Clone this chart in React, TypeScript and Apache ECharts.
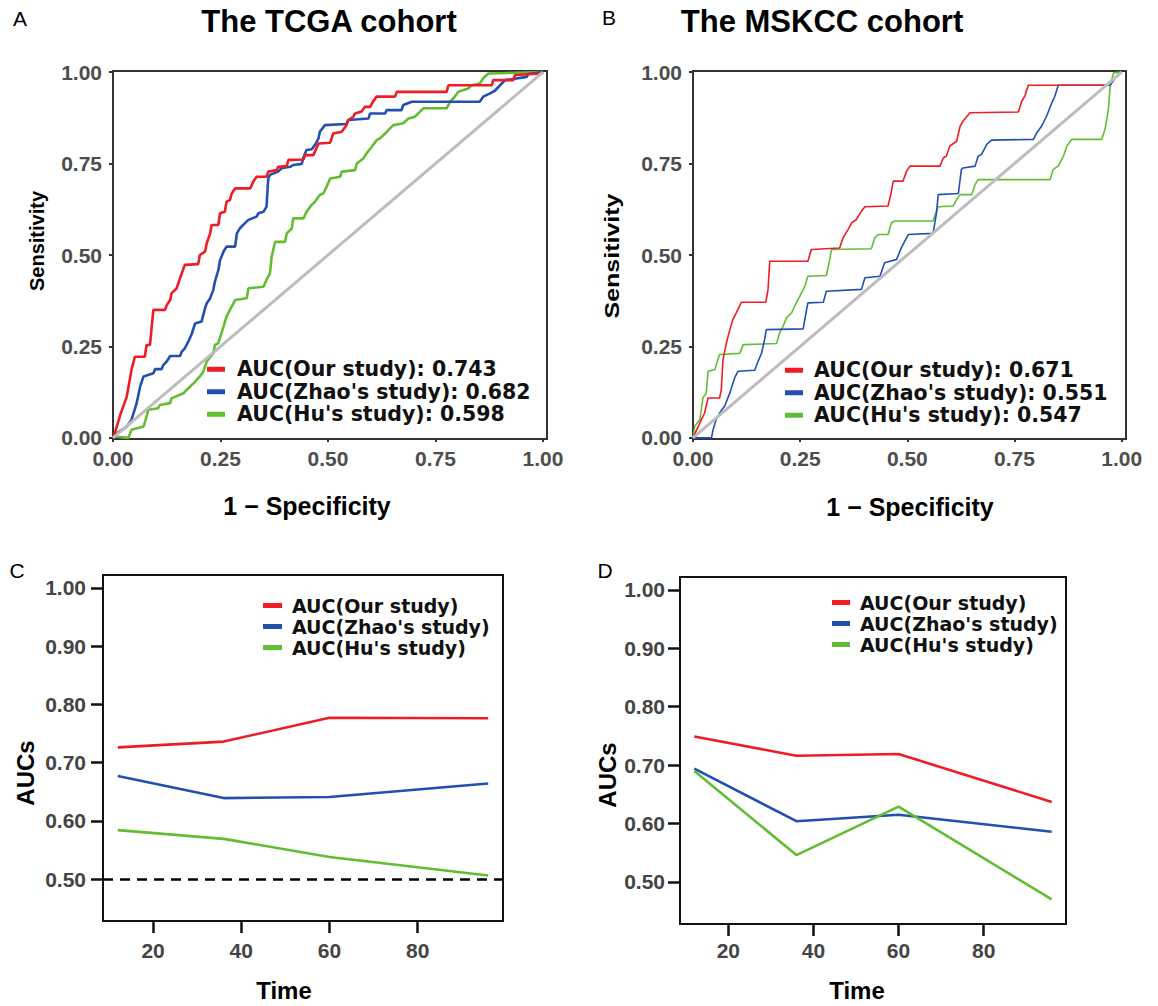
import React, { useEffect, useRef } from "react";
import * as echarts from "echarts";

// ---------- DATA ----------
const studies = ["Our study", "Zhao's study", "Hu's study"];
const tcgaAUC = [0.743, 0.682, 0.598];
const mskccAUC = [0.671, 0.551, 0.547];
const rocTicks = [0, 0.25, 0.5, 0.75, 1];
const timeTicks = [20, 40, 60, 80];
const aucTicks = [0.5, 0.6, 0.7, 0.8, 0.9, 1.0];
const diagonal = [[0, 0], [1, 1]];
const chanceAUC = 0.5;

// ROC curves [1 - specificity, sensitivity]
const tcgaOur = [
  [0, 0], [0.002, 0.004], [0.018, 0.067], [0.032, 0.113], [0.043, 0.186], [0.051, 0.222], [0.074, 0.222],
  [0.078, 0.254], [0.086, 0.254], [0.09, 0.304], [0.094, 0.35], [0.121, 0.35], [0.125, 0.363], [0.133, 0.377],
  [0.136, 0.395], [0.148, 0.409], [0.152, 0.423], [0.16, 0.45], [0.167, 0.473], [0.198, 0.475], [0.202, 0.5],
  [0.214, 0.509], [0.218, 0.532], [0.226, 0.559], [0.229, 0.582], [0.245, 0.582], [0.249, 0.614], [0.26, 0.618],
  [0.264, 0.646], [0.272, 0.65], [0.276, 0.668], [0.284, 0.682], [0.319, 0.682], [0.326, 0.7], [0.334, 0.714],
  [0.357, 0.714], [0.361, 0.728], [0.381, 0.732], [0.384, 0.741], [0.404, 0.743], [0.408, 0.76], [0.443, 0.761],
  [0.447, 0.773], [0.466, 0.773], [0.478, 0.805], [0.505, 0.807], [0.512, 0.832], [0.532, 0.837], [0.543, 0.855],
  [0.547, 0.869], [0.559, 0.878], [0.563, 0.887], [0.578, 0.892], [0.586, 0.905], [0.598, 0.905], [0.602, 0.914],
  [0.613, 0.933], [0.656, 0.933], [0.66, 0.946], [0.776, 0.946], [0.78, 0.964], [0.881, 0.964], [0.884, 0.978],
  [0.931, 0.978], [0.935, 0.992], [0.997, 0.996], [1, 1],
];
const tcgaZhao = [
  [0, 0], [0.002, 0.004], [0.012, 0.015], [0.032, 0.031], [0.043, 0.049], [0.055, 0.095], [0.063, 0.14],
  [0.071, 0.168], [0.094, 0.177], [0.098, 0.188], [0.113, 0.188], [0.117, 0.199], [0.125, 0.209], [0.133, 0.224],
  [0.156, 0.224], [0.16, 0.236], [0.167, 0.245], [0.175, 0.263], [0.183, 0.284], [0.191, 0.313], [0.206, 0.318],
  [0.214, 0.354], [0.218, 0.368], [0.226, 0.382], [0.233, 0.404], [0.237, 0.427], [0.245, 0.459], [0.249, 0.486],
  [0.257, 0.509], [0.264, 0.523], [0.284, 0.523], [0.288, 0.559], [0.295, 0.573], [0.307, 0.587], [0.315, 0.596],
  [0.334, 0.605], [0.338, 0.614], [0.35, 0.618], [0.357, 0.632], [0.361, 0.709], [0.365, 0.719], [0.384, 0.728],
  [0.392, 0.737], [0.412, 0.741], [0.419, 0.746], [0.439, 0.749], [0.443, 0.767], [0.45, 0.787], [0.462, 0.789],
  [0.47, 0.801], [0.478, 0.819], [0.481, 0.837], [0.493, 0.855], [0.543, 0.858], [0.547, 0.869], [0.594, 0.873],
  [0.598, 0.887], [0.633, 0.887], [0.636, 0.896], [0.671, 0.896], [0.675, 0.91], [0.695, 0.919], [0.853, 0.919],
  [0.861, 0.933], [0.877, 0.942], [0.888, 0.949], [0.9, 0.964], [0.912, 0.978], [0.962, 0.987], [0.966, 0.995],
  [1, 1],
];
const tcgaHu = [
  [0, 0], [0.002, 0.004], [0.036, 0.0], [0.043, 0.022], [0.071, 0.031], [0.078, 0.058], [0.082, 0.077],
  [0.105, 0.081], [0.109, 0.09], [0.133, 0.095], [0.136, 0.108], [0.164, 0.122], [0.171, 0.131], [0.187, 0.149],
  [0.202, 0.168], [0.21, 0.181], [0.218, 0.209], [0.233, 0.231], [0.237, 0.254], [0.245, 0.259], [0.257, 0.304],
  [0.264, 0.332], [0.272, 0.35], [0.28, 0.368], [0.284, 0.377], [0.311, 0.382], [0.315, 0.409], [0.35, 0.413],
  [0.357, 0.432], [0.365, 0.45], [0.369, 0.495], [0.377, 0.536], [0.4, 0.536], [0.404, 0.559], [0.416, 0.573],
  [0.419, 0.6], [0.443, 0.6], [0.45, 0.618], [0.462, 0.637], [0.47, 0.646], [0.481, 0.664], [0.489, 0.668],
  [0.497, 0.687], [0.505, 0.709], [0.528, 0.714], [0.532, 0.728], [0.563, 0.732], [0.567, 0.75], [0.582, 0.764],
  [0.59, 0.778], [0.602, 0.796], [0.613, 0.814], [0.621, 0.819], [0.633, 0.832], [0.644, 0.846], [0.652, 0.855],
  [0.675, 0.86], [0.687, 0.873], [0.702, 0.878], [0.714, 0.892], [0.722, 0.901], [0.776, 0.901], [0.784, 0.919],
  [0.795, 0.933], [0.803, 0.946], [0.826, 0.955], [0.834, 0.964], [0.853, 0.969], [0.861, 0.983], [0.873, 0.996],
  [1, 1],
];
const mskccOur = [
  [0, 0], [0.016, 0.041], [0.027, 0.068], [0.035, 0.109], [0.062, 0.109], [0.066, 0.132], [0.07, 0.214],
  [0.078, 0.26], [0.086, 0.296], [0.093, 0.324], [0.101, 0.342], [0.113, 0.371], [0.17, 0.371], [0.175, 0.406],
  [0.179, 0.483], [0.268, 0.483], [0.276, 0.515], [0.342, 0.519], [0.35, 0.547], [0.362, 0.57], [0.37, 0.588],
  [0.381, 0.597], [0.393, 0.62], [0.401, 0.632], [0.455, 0.634], [0.463, 0.675], [0.467, 0.702], [0.49, 0.702],
  [0.498, 0.729], [0.506, 0.743], [0.576, 0.743], [0.584, 0.766], [0.591, 0.77], [0.599, 0.798], [0.615, 0.811],
  [0.623, 0.852], [0.63, 0.866], [0.646, 0.889], [0.759, 0.891], [0.767, 0.921], [0.774, 0.934], [0.782, 0.964],
  [0.965, 0.964], [0.981, 0.98], [1, 1],
];
const mskccZhao = [
  [0, 0], [0.043, 0], [0.047, 0.023], [0.054, 0.05], [0.062, 0.068], [0.074, 0.087], [0.086, 0.123],
  [0.097, 0.164], [0.105, 0.182], [0.144, 0.185], [0.152, 0.21], [0.16, 0.232], [0.167, 0.269], [0.171, 0.296],
  [0.257, 0.298], [0.265, 0.351], [0.268, 0.369], [0.304, 0.371], [0.311, 0.401], [0.393, 0.406], [0.401, 0.438],
  [0.436, 0.442], [0.447, 0.479], [0.475, 0.488], [0.486, 0.52], [0.498, 0.547], [0.502, 0.556], [0.56, 0.559],
  [0.568, 0.615], [0.572, 0.665], [0.619, 0.668], [0.626, 0.734], [0.63, 0.738], [0.658, 0.743], [0.665, 0.77],
  [0.673, 0.775], [0.685, 0.802], [0.696, 0.814], [0.794, 0.816], [0.802, 0.834], [0.813, 0.852], [0.825, 0.88],
  [0.837, 0.916], [0.844, 0.934], [0.852, 0.964], [0.973, 0.964], [0.988, 0.989], [1, 1],
];
const mskccHu = [
  [0, 0], [0.004, 0.032], [0.016, 0.05], [0.023, 0.109], [0.031, 0.123], [0.035, 0.182], [0.051, 0.187],
  [0.058, 0.214], [0.062, 0.228], [0.109, 0.231], [0.117, 0.255], [0.195, 0.258], [0.202, 0.287], [0.21, 0.305],
  [0.218, 0.328], [0.23, 0.342], [0.237, 0.36], [0.249, 0.387], [0.261, 0.415], [0.268, 0.442], [0.311, 0.444],
  [0.319, 0.488], [0.323, 0.515], [0.416, 0.517], [0.424, 0.547], [0.432, 0.556], [0.455, 0.556], [0.463, 0.588],
  [0.471, 0.593], [0.56, 0.593], [0.568, 0.62], [0.572, 0.632], [0.607, 0.634], [0.615, 0.652], [0.623, 0.665],
  [0.65, 0.665], [0.658, 0.693], [0.665, 0.706], [0.833, 0.706], [0.84, 0.734], [0.852, 0.743], [0.864, 0.77],
  [0.872, 0.798], [0.883, 0.816], [0.953, 0.816], [0.961, 0.843], [0.969, 0.898], [0.973, 0.962], [0.981, 0.998],
  [1, 1],
];

// Time-dependent AUCs
const timePoints = [12, 36, 60, 96];
const tcgaTimeOur = [0.726, 0.736, 0.777, 0.776];
const tcgaTimeZhao = [0.677, 0.639, 0.641, 0.664];
const tcgaTimeHu = [0.584, 0.569, 0.538, 0.506];
const mskccTimeOur = [0.749, 0.716, 0.719, 0.637];
const mskccTimeZhao = [0.694, 0.604, 0.615, 0.586];
const mskccTimeHu = [0.69, 0.546, 0.629, 0.47];

// ---------- STYLE ----------
const COLORS = ["#ee1c25", "#2150b0", "#62bd32"];
const ARIAL = "'Liberation Sans', Arial, Helvetica, sans-serif";
const DEJAVU = "'DejaVu Sans', Verdana, sans-serif";

function rocAxis(grid: number, max: number, isY: boolean) {
  return {
    gridIndex: grid,
    type: "value",
    min: 0,
    max,
    axisLine: { show: false },
    splitLine: { show: false },
    axisTick: { show: true, length: 4, customValues: rocTicks, lineStyle: { color: "#333", width: 2 } },
    axisLabel: {
      customValues: rocTicks,
      formatter: (v: number) => v.toFixed(2),
      fontFamily: ARIAL,
      fontWeight: "bold",
      fontSize: 21,
      color: "#4d4d4d",
      margin: isY ? 11 : 9,
    },
  };
}

function timeAxis(grid: number, isY: boolean, margin: number) {
  return {
    gridIndex: grid,
    type: "value",
    min: isY ? 0.428 : 8.64,
    max: isY ? 1.022 : 99.36,
    axisLine: { show: false },
    splitLine: { show: false },
    axisTick: {
      show: true,
      length: 12,
      customValues: isY ? aucTicks : timeTicks,
      lineStyle: { color: "#111", width: 2.5 },
    },
    axisLabel: {
      customValues: isY ? aucTicks : timeTicks,
      formatter: (v: number) => (isY ? v.toFixed(2) : String(v)),
      fontFamily: ARIAL,
      fontWeight: "bold",
      fontSize: 21,
      color: "#444",
      margin,
    },
  };
}

function rocSeries(names: string[], curves: number[][][], grid: number, width: number) {
  const s: any[] = curves.map((c, i) => ({
    name: names[i],
    type: "line",
    xAxisIndex: grid,
    yAxisIndex: grid,
    data: c,
    showSymbol: false,
    symbol: "none",
    color: COLORS[i],
    lineStyle: { color: COLORS[i], width },
    z: 3 + (2 - i),
  }));
  s.push({
    name: "diag" + grid,
    type: "line",
    xAxisIndex: grid,
    yAxisIndex: grid,
    data: diagonal,
    showSymbol: false,
    symbol: "none",
    color: "#bdbdbd",
    lineStyle: { color: "#bdbdbd", width: 3 },
    z: 6,
  });
  return s;
}

function timeSeries(names: string[], vals: number[][], grid: number, dashed: boolean) {
  return vals.map((v, i) => ({
    name: names[i],
    type: "line",
    xAxisIndex: grid,
    yAxisIndex: grid,
    data: timePoints.map((t, k) => [t, v[k]]),
    showSymbol: false,
    symbol: "none",
    color: COLORS[i],
    lineStyle: { color: COLORS[i], width: 2.6 },
    z: 3,
    markLine:
      dashed && i === 0
        ? {
            silent: true,
            symbol: "none",
            label: { show: false },
            lineStyle: { type: [10, 7], color: "#000", width: 2.5 },
            data: [{ yAxis: chanceAUC }],
          }
        : undefined,
  }));
}

function legend(names: string[], left: number, top: number, w: number, fs: number, lh: number, pad: number) {
  return {
    orient: "vertical",
    left,
    top,
    itemWidth: w,
    itemHeight: 5,
    itemGap: 0,
    icon: "rect",
    padding: 0,
    selectedMode: false,
    data: names,
    textStyle: {
      fontFamily: DEJAVU,
      fontWeight: "bold",
      fontSize: fs,
      lineHeight: lh,
      color: "#111",
      padding: [0, 0, 0, pad],
    },
  };
}

function txt(text: string, x: number, y: number, fontSize: number, bold = true, rot = 0, sx = 1) {
  return {
    type: "text",
    x,
    y,
    rotation: rot,
    scaleX: sx,
    style: {
      text,
      fontFamily: ARIAL,
      fontWeight: bold ? "bold" : "normal",
      fontSize,
      fill: "#000",
      align: "center",
      verticalAlign: "middle",
    },
  };
}

export default function App() {
  const ref = useRef<HTMLDivElement>(null);
  useEffect(() => {
    if (!ref.current) return;
    const chart = echarts.init(ref.current, undefined, { renderer: "svg" });
    const tcgaNames = studies.map((s, i) => `AUC(${s}): ${tcgaAUC[i].toFixed(3)}`);
    const mskccNames = studies.map((s, i) => `AUC(${s}): ${mskccAUC[i].toFixed(3)}`);
    const timeNames = studies.map((s) => `AUC(${s})`);
    const gridBase = { show: true, backgroundColor: "transparent", containLabel: false };
    const option: any = {
      animation: false,
      backgroundColor: "#fff",
      grid: [
        { ...gridBase, left: 113, top: 71, width: 434, height: 368, borderColor: "#333", borderWidth: 2 },
        { ...gridBase, left: 693, top: 71, width: 433, height: 368, borderColor: "#333", borderWidth: 2 },
        { ...gridBase, left: 103, top: 575, width: 400, height: 346, borderColor: "#111", borderWidth: 2 },
        { ...gridBase, left: 680, top: 577, width: 386, height: 347, borderColor: "#111", borderWidth: 2 },
      ],
      xAxis: [
        rocAxis(0, 1.0093, false),
        rocAxis(1, 1.01, false),
        timeAxis(2, false, 19),
        timeAxis(3, false, 16),
      ],
      yAxis: [
        { ...rocAxis(0, 1.003, true), min: -0.003 },
        { ...rocAxis(1, 1.003, true), min: -0.003 },
        timeAxis(2, true, 17),
        timeAxis(3, true, 15),
      ],
      legend: [
        legend(tcgaNames, 207, 358, 18, 20.5, 22.5, 7),
        legend(mskccNames, 785, 359, 18, 20.5, 22.5, 6),
        legend(timeNames, 263, 595, 19, 19, 21, 5),
        legend(timeNames, 832, 592, 18, 19, 21, 5),
      ],
      series: [
        ...rocSeries(tcgaNames, [tcgaOur, tcgaZhao, tcgaHu], 0, 2.6),
        ...rocSeries(mskccNames, [mskccOur, mskccZhao, mskccHu], 1, 1.6),
        ...timeSeries(timeNames, [tcgaTimeOur, tcgaTimeZhao, tcgaTimeHu], 2, true),
        ...timeSeries(timeNames, [mskccTimeOur, mskccTimeZhao, mskccTimeHu], 3, false),
      ],
      graphic: [
        txt("A", 20, 18, 21, false),
        txt("B", 609, 17, 21, false),
        txt("C", 17, 570, 21, false),
        txt("D", 605, 570, 21, false),
        txt("The TCGA cohort", 329, 21, 31),
        txt("The MSKCC cohort", 822, 21, 31),
        txt("Sensitivity", 37, 241, 20, true, Math.PI / 2),
        txt("Sensitivity", 612, 256, 20, true, Math.PI / 2, 1.25),
        txt("1 \u2212 Specificity", 307, 506, 25),
        txt("1 \u2212 Specificity", 910, 507, 25),
        txt("AUCs", 25, 773, 24, true, Math.PI / 2),
        txt("AUCs", 607, 775, 24, true, Math.PI / 2),
        txt("Time", 284, 990, 24),
        txt("Time", 857, 990, 24),
      ],
    };
    chart.setOption(option);
    return () => chart.dispose();
  }, []);
  return (
    <div
      ref={ref}
      style={{ position: "fixed", left: 0, top: 0, width: 1158, height: 1006, background: "#fff" }}
    />
  );
}
